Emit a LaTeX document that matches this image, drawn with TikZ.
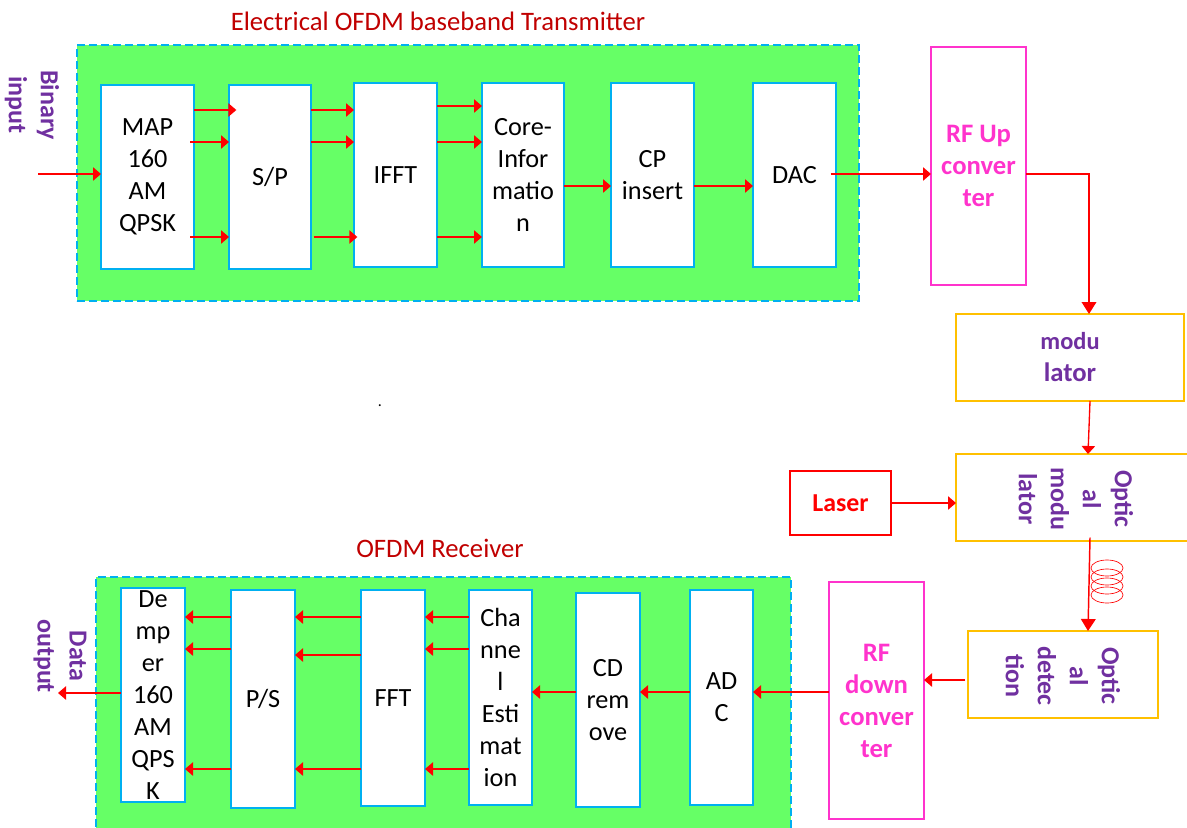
\documentclass[tikz,border=0pt]{standalone}
\usepackage{fontspec}
\setmainfont{Carlito}
\usetikzlibrary{arrows.meta,calc,shapes.geometric}
\definecolor{grn}{HTML}{66FF66}
\definecolor{blu}{HTML}{00B0F0}
\definecolor{org}{HTML}{FFC000}
\definecolor{pur}{HTML}{7030A0}
\definecolor{mag}{HTML}{FF33CC}
\definecolor{ttl}{HTML}{C00000}
\tikzset{
 x=0.75pt,y=-0.75pt,
 panel/.style={fill=grn,draw=blu,dash pattern=on 6pt off 3pt,line width=0.9pt,inner sep=0,outer sep=0,anchor=north west},
 blk/.style={fill=white,draw=blu,line width=1.1pt,inner sep=0,outer sep=0,anchor=north west,align=center,font=\fontsize{19.7}{24}\selectfont},
 side/.style={draw,line width=1.1pt,inner sep=0,outer sep=0,anchor=north west,align=center,font=\fontsize{20}{24}\selectfont\bfseries},
 lab/.style={text=pur,font=\fontsize{19.5}{24}\selectfont\bfseries,align=center},
 ttlab/.style={text=ttl,font=\fontsize{20}{22}\selectfont},
 arr/.style={draw=red,line width=1pt,-{Triangle[width=10pt,length=6pt,fill=red]}},
 bigarr/.style={draw=red,line width=1.1pt,-{Triangle[width=11pt,length=9pt,fill=red]}},
 coil/.style={draw=red,line width=0.5pt,ellipse,minimum width=24pt,minimum height=12pt,inner sep=0},
}
\newcommand{\bx}[7][blk]{\node[#1,#7,minimum width=#4*0.75pt,minimum height=#5*0.75pt] (#2) at (#3) {#6};}
\begin{document}
\begin{tikzpicture}
\useasboundingbox (0,0) rectangle (1187,827);
\node[panel,minimum width=782*0.75pt,minimum height=256*0.75pt] (tx) at (77,45) {};
\node[panel,minimum width=695*0.75pt,minimum height=252*0.75pt] (rx) at (96,577) {};
\node[ttlab] (txt) at (438,21) {Electrical OFDM baseband Transmitter};
\node[ttlab] (rxt) at (440,548) {OFDM Receiver};
% transmitter
\bx{map}{101,85}{93}{184}{MAP\\160\\AM\\QPSK}{}
\bx{sp}{229,85}{82}{184}{S/P}{}
\bx{ifft}{354,83}{83}{184}{IFFT}{}
\bx{core}{482,83}{82}{184}{Core-\\Infor\\matio\\n}{}
\bx{cp}{611,83}{83}{184}{CP\\insert}{}
\bx{dac}{753,83}{83}{184}{DAC}{}
\bx[side]{rfu}{931,47}{95}{238}{RF Up\\conver\\ter}{draw=mag,text=mag}
\bx[side]{mod}{956,314}{228}{87}{\fontsize{18.3}{24}\selectfont\bfseries modu\\lator}{draw=org,text=pur}
\bx[side]{omod}{956,454}{240}{87}{}{draw=org}
\bx[side]{las}{790,471}{101}{64}{\fontsize{19.4}{24}\selectfont\bfseries Laser}{draw=red,text=red}
\bx[side]{odet}{968,631}{190}{87}{}{draw=org}
\node[lab,rotate=-90] (omodt) at (1076,499) {Optic\\al\\modu\\lator};
\node[lab,rotate=-90] (odett) at (1063,676) {Optic\\al\\detec\\tion};
% receiver
\bx[side]{rfd}{829,582}{95}{237}{RF\\down\\conver\\ter}{draw=mag,text=mag}
\bx{adc}{690,590}{63}{215}{AD\\C}{}
\bx{cd}{576,593}{64}{214}{CD\\rem\\ove}{}
\bx{che}{469,590}{63}{215}{Cha\\nne\\l\\Esti\\mat\\ion}{}
\bx{fft}{361,590}{64}{216}{FFT}{}
\bx{ps}{231,590}{64}{218}{P/S}{}
\bx{dem}{121,588}{64}{214}{De\\mp\\er\\160\\AM\\QPS\\K}{}
\node[lab,rotate=-90] (bin) at (32,105) {Binary\\input};
\node[lab,rotate=-90] (dat) at (60,656) {Data\\output};
\node (dot) at (380,406) {\fontsize{12}{12}\selectfont .};
% levels
\coordinate (a1) at (0,110); \coordinate (a2) at (0,142); \coordinate (a3) at (0,237);
\coordinate (a4) at (0,106); \coordinate (in) at (38,174);
\coordinate (b1) at (0,617); \coordinate (b2) at (0,649); \coordinate (b2p) at (0,655); \coordinate (b3) at (0,769);
\coordinate (b4) at (0,692); \coordinate (b5) at (0,680);
\coordinate (out) at (58,693);
% tx arrows
\draw[arr] (in) -- (map.west |- in);
\draw[arr] (map.east |- a1) -- ([xshift=5.5pt]sp.west |- a1);
\draw[arr] ([xshift=-3pt]map.east |- a2) -- (sp.west |- a2);
\draw[arr] ([xshift=-3pt]map.east |- a3) -- (sp.west |- a3);
\draw[arr] (sp.east |- a1) -- (ifft.west |- a1);
\draw[arr] (sp.east |- a2) -- (ifft.west |- a2);
\draw[arr] ([xshift=2pt]sp.east |- a3) -- ([xshift=2.5pt]ifft.west |- a3);
\draw[arr] (ifft.east |- a4) -- (core.west |- a4);
\draw[arr] (ifft.east |- a2) -- (core.west |- a2);
\draw[arr] (ifft.east |- a3) -- (core.west |- a3);
\coordinate (c1) at (0,186);
\draw[arr] (core.east |- c1) -- (cp.west |- c1);
\draw[arr] (cp.east |- c1) -- (dac.west |- c1);
\coordinate (c2) at (0,174);
\draw[arr] ([xshift=-4pt]dac.east |- c2) -- (rfu.west |- c2);
\coordinate (r1) at (1089,174);
\draw[bigarr] (rfu.east |- r1) -- (r1) -- (r1 |- mod.north);
\coordinate (m1) at (1090,0);
\coordinate (m2) at (1088,0);
\draw[arr] (m1 |- mod.south) -- (m2 |- omod.north);
\coordinate (l1) at (0,503);
\draw[arr] (las.east |- l1) -- (omod.west |- l1);
\draw[bigarr] ([yshift=2.5pt]m1 |- omod.south) -- (m2 |- odet.north);
\foreach \n/\cy in {k1/568,k2/577,k3/586,k4/595}
  \node[coil,draw] (\n) at (1107,\cy) {};
% rx arrows
\draw[arr] ([xshift=-2pt]odet.west |- b5) -- (rfd.east |- b5);
\draw[arr] (rfd.west |- b4) -- (adc.east |- b4);
\draw[arr] (adc.west |- b4) -- (cd.east |- b4);
\draw[arr] (cd.west |- b4) -- (che.east |- b4);
\draw[arr] (che.west |- b1) -- (fft.east |- b1);
\draw[arr] (che.west |- b2) -- (fft.east |- b2);
\draw[arr] (che.west |- b3) -- (fft.east |- b3);
\draw[arr] (fft.west |- b1) -- (ps.east |- b1);
\draw[arr] (fft.west |- b2p) -- (ps.east |- b2p);
\draw[arr] (fft.west |- b3) -- (ps.east |- b3);
\draw[arr] (ps.west |- b1) -- (dem.east |- b1);
\draw[arr] (ps.west |- b2) -- (dem.east |- b2);
\draw[arr] (ps.west |- b3) -- (dem.east |- b3);
\draw[arr] (dem.west |- out) -- (out);
\end{tikzpicture}
\end{document}
